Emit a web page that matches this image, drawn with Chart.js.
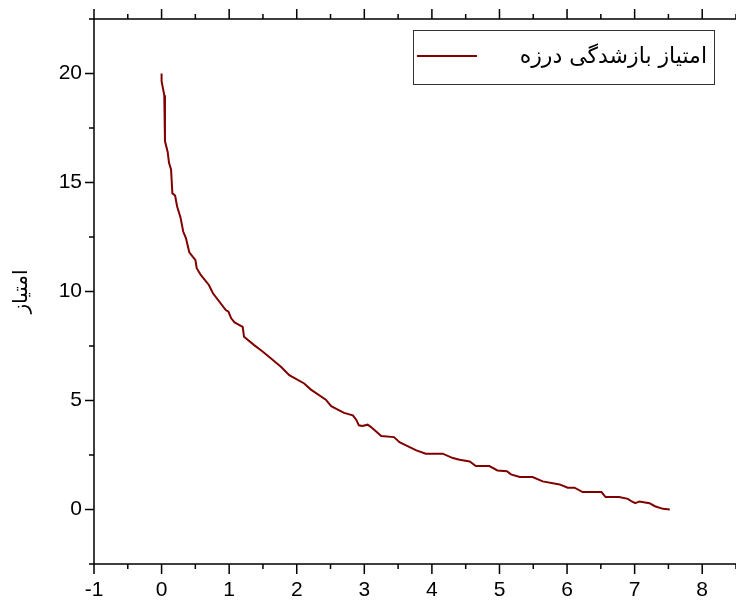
<!DOCTYPE html>
<html>
<head>
<meta charset="utf-8">
<script src="https://cdn.jsdelivr.net/npm/chart.js@4/dist/chart.umd.min.js"></script>
<style>
  html, body { margin: 0; padding: 0; background: #fff; }
  #wrap { width: 736px; height: 603px; }
</style>
</head>
<body>
<div id="wrap"><canvas id="scoreChart" width="736" height="603"></canvas></div>
<script>
// values
const xValues = [0, 0, 0.04, 0.05, 0.09, 0.11, 0.14, 0.16, 0.2, 0.23, 0.28, 0.32, 0.36, 0.41, 0.46, 0.5,
  0.52, 0.58, 0.70, 0.76, 0.95, 0.99, 1.03, 1.08, 1.2, 1.22, 1.37, 1.49, 1.62, 1.77, 1.89, 2.11,
  2.21, 2.43, 2.51, 2.70, 2.83, 2.88, 2.92, 2.97, 3.05, 3.10, 3.25, 3.44, 3.52, 3.64, 3.77, 3.91,
  4.16, 4.31, 4.41, 4.56, 4.65, 4.85, 4.97, 5.11, 5.17, 5.3, 5.49, 5.64, 5.89, 6.01, 6.11, 6.23,
  6.51, 6.57, 6.77, 6.9, 6.95, 7.01, 7.07, 7.22, 7.3, 7.42, 7.52];
const yValues = [20, 19.65, 19.0, 16.9, 16.4, 15.9, 15.6, 14.5, 14.4, 13.9, 13.4, 12.75, 12.45, 11.8, 11.6, 11.45,
  11.07, 10.76, 10.3, 9.92, 9.15, 9.07, 8.77, 8.58, 8.38, 7.92, 7.54, 7.26, 6.93, 6.54, 6.16, 5.78,
  5.5, 5.04, 4.74, 4.43, 4.32, 4.12, 3.86, 3.83, 3.89, 3.78, 3.37, 3.32, 3.09, 2.91, 2.71, 2.56,
  2.56, 2.36, 2.28, 2.2, 1.99, 1.99, 1.79, 1.76, 1.61, 1.49, 1.49, 1.29, 1.15, 1.0, 1.0, 0.8,
  0.8, 0.57, 0.57, 0.49, 0.38, 0.29, 0.37, 0.29, 0.15, 0.03, 0];
const xTicks = [-1, 0, 1, 2, 3, 4, 5, 6, 7, 8];
const yTicks = [0, 5, 10, 15, 20];
const seriesLabel = 'امتیاز بازشدگی درزه';
const yTitle = 'امتیاز';

const points = xValues.map((x, i) => ({ x: x, y: yValues[i] }));

// axis lines + outward major/minor ticks, Origin style
const axisTicks = {
    id: 'axisTicks',
    afterDraw: function(chart) {
        const ctx = chart.ctx;
        const a = chart.chartArea;
        const xs = chart.scales.x, ys = chart.scales.y;
        ctx.save();
        ctx.strokeStyle = '#000';
        ctx.lineWidth = 1.5;
        ctx.beginPath();
        ctx.moveTo(a.left, a.top); ctx.lineTo(a.left, a.bottom);
        ctx.moveTo(a.left, a.bottom); ctx.lineTo(a.right, a.bottom);
        ctx.moveTo(a.left, a.top); ctx.lineTo(a.right, a.top);
        for (let v = xs.min; v <= xs.max + 1e-9; v += 0.5) {
            const px = xs.getPixelForValue(v);
            const len = Number.isInteger(v) ? 10 : 5;
            ctx.moveTo(px, a.bottom); ctx.lineTo(px, a.bottom + len);
            ctx.moveTo(px, a.top); ctx.lineTo(px, a.top - len);
        }
        for (let v = ys.min; v <= ys.max + 1e-9; v += 2.5) {
            const py = ys.getPixelForValue(v);
            const len = (v % 5 === 0) ? 9 : 5;
            ctx.moveTo(a.left, py); ctx.lineTo(a.left - len, py);
        }
        ctx.stroke();
        ctx.restore();
    }
};

// boxed legend inside the plot, top right
const boxLegend = {
    id: 'boxLegend',
    afterDraw: function(chart) {
        const ctx = chart.ctx;
        const a = chart.chartArea;
        const ds = chart.data.datasets[0];
        const right = a.right - 22, top = a.top + 11;
        const left = 413, bottom = top + 54;
        ctx.save();
        ctx.fillStyle = '#fff';
        ctx.fillRect(left, top, right - left, bottom - top);
        ctx.strokeStyle = '#333';
        ctx.lineWidth = 1;
        ctx.strokeRect(left + 0.5, top + 0.5, right - left, bottom - top);
        const cy = (top + bottom) / 2 - 1;
        ctx.strokeStyle = ds.borderColor;
        ctx.lineWidth = 2;
        ctx.beginPath();
        ctx.moveTo(left + 4, cy); ctx.lineTo(left + 64, cy);
        ctx.stroke();
        ctx.fillStyle = '#000';
        ctx.font = '22px "DejaVu Sans", "Liberation Sans", sans-serif';
        ctx.textAlign = 'right';
        ctx.textBaseline = 'middle';
        ctx.direction = 'rtl';
        ctx.fillText(ds.label, right - 7, cy + 1, right - 7 - (left + 72));
        ctx.restore();
    }
};

const chart = new Chart(document.getElementById('scoreChart').getContext('2d'), {
    type: 'line',
    data: {
        datasets: [{
            label: seriesLabel,
            data: points,
            borderColor: '#800000',
            borderWidth: 2,
            pointRadius: 0,
            tension: 0,
            fill: false
        }]
    },
    options: {
        responsive: false,
        animation: false,
        devicePixelRatio: 1,
        layout: { padding: { top: 19, right: 0, left: 0, bottom: 0 } },
        plugins: {
            legend: { display: false },
            tooltip: { enabled: false }
        },
        scales: {
            x: {
                type: 'linear',
                min: -1,
                max: 8.5,
                grid: { display: false, drawTicks: false },
                border: { display: false },
                afterBuildTicks: function(scale) { scale.ticks = xTicks.map(v => ({ value: v })); },
                afterFit: function(scale) {
                    scale.height = 39;
                    scale.paddingLeft = 0;
                    scale.paddingRight = 0;
                },
                ticks: {
                    padding: 14,
                    color: '#000',
                    font: { family: '"Liberation Sans", Arial, sans-serif', size: 21 },
                    maxRotation: 0,
                    autoSkip: false
                }
            },
            y: {
                type: 'linear',
                min: -2.5,
                max: 22.5,
                grid: { display: false, drawTicks: false },
                border: { display: false },
                afterBuildTicks: function(scale) { scale.ticks = yTicks.map(v => ({ value: v })); },
                afterFit: function(scale) {
                    scale.width = 94;
                    scale.paddingTop = 0;
                    scale.paddingBottom = 0;
                },
                ticks: {
                    padding: 12,
                    color: '#000',
                    font: { family: '"Liberation Sans", Arial, sans-serif', size: 21 }
                },
                title: {
                    display: true,
                    text: yTitle,
                    color: '#000',
                    padding: { top: 10, bottom: 0 },
                    font: { family: '"DejaVu Sans", sans-serif', size: 20 }
                }
            }
        }
    },
    plugins: [axisTicks, boxLegend]
});
</script>
</body>
</html>
